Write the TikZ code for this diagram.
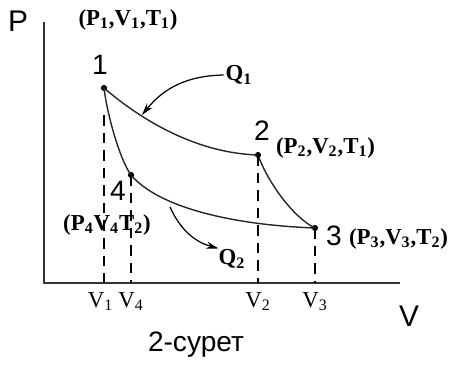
\documentclass[tikz,border=0pt]{standalone}
\usepackage{fontspec}
\setmainfont{Liberation Serif}
\setsansfont{Liberation Sans}
\usetikzlibrary{arrows.meta, positioning, calc}
\tikzset{
    axis/.style={line width=1.1pt, draw=black!80},
    process/.style={line width=0.8pt, draw=black!85},
    guide/.style={dashed, dash pattern=on 6pt off 4pt, line width=0.7pt},
    state/.style={circle, fill=black, inner sep=0pt, minimum size=3.5pt},
    digit/.style={font=\sffamily\fontsize{16}{16}\selectfont, inner sep=1pt},
    tuple/.style={font=\bfseries\fontsize{13}{13}\selectfont, inner sep=1pt},
    tick/.style={font=\fontsize{13}{13}\selectfont, inner sep=1pt},
    heat/.style={line width=0.7pt, -{Stealth[length=7pt, width=4pt]}}
}

\begin{document}
\begin{tikzpicture}[x=0.02cm, y=0.02cm]
        \useasboundingbox (-44,-83) rectangle (405,283);
        % Axes
        \coordinate (origin) at (0,0);
        \coordinate (ptop) at (0,261);
        \coordinate (vend) at (356,0);
        \draw[axis] (ptop) -- (origin) -- (vend);
        \node (plab) [font=\sffamily\fontsize{17}{17}\selectfont] at (-26,262) {P};
        \node (vlab) [font=\sffamily\fontsize{17}{17}\selectfont] at (365,-33) {V};

        % States
        \node (s1) [state] at (60,195) {};
        \node (s2) [state] at (214,128) {};
        \node (s3) [state] at (271,55) {};
        \node (s4) [state] at (87,108) {};

        % Cycle
        \draw[process] (s1.center) .. controls (95,165) and (150,130) .. (s2.center);
        \draw[process] (s2.center) .. controls (224,100) and (250,65) .. (s3.center);
        \draw[process] (s3.center) .. controls (190,58) and (115,75) .. (s4.center);
        \draw[process] (s4.center) .. controls (75,125) and (63,170) .. (s1.center);

        % Volume guides
        \coordinate (f1) at (60,0);
        \coordinate (f4) at (87,0);
        \coordinate (f2) at (214,0);
        \coordinate (f3) at (271,0);
        \coordinate (g1) at (60,168);
        \draw[guide] (g1) -- (f1);
        \draw[guide] (s4.center) -- (f4);
        \draw[guide] (s2.center) -- (f2);
        \draw[guide] (s3.center) -- (f3);
        \node (v1) [tick, below=4pt of f1, xshift=-2pt] {V\textsubscript{1}};
        \node (v4) [tick, below=4pt of f4] {V\textsubscript{4}};
        \node (v2) [tick, below=4pt of f2] {V\textsubscript{2}};
        \node (v3) [tick, below=4pt of f3] {V\textsubscript{3}};

        % Labels
        \node (n1) [digit] at (56,218) {1};
        \node (t1) [tuple] at (84,263) {(P\textsubscript{1},V\textsubscript{1},T\textsubscript{1})};
        \node (n2) [digit] at (218,152) {2};
        \node (t2) [tuple, anchor=west] at (230,135) {(P\textsubscript{2},V\textsubscript{2},T\textsubscript{1})};
        \node (n3) [digit] at (290,47) {3};
        \node (t3) [tuple, anchor=west] at (303,44) {(P\textsubscript{3},V\textsubscript{3},T\textsubscript{2})};
        \node (n4) [digit] at (74,92) {4};
        \node (t4) [tuple] at (63,58) {(P\textsubscript{4}V\textsubscript{4}T\textsubscript{2})};

        % Heat
        \node (q1) [tuple] at (195,208) {Q\textsubscript{1}};
        \node (q2) [tuple] at (188,24) {Q\textsubscript{2}};
        \coordinate (q1tip) at (98,168);
        \coordinate (q2from) at (126,76);
        \draw[heat] (q1.west) to[bend right=25] (q1tip);
        \draw[heat] (q2from) to[bend right=25] ($(q2.north west)+(2,-1)$);

        \node (caption) [font=\sffamily\fontsize{16}{16}\selectfont] at (152,-62) {2-сурет};
    \end{tikzpicture}
\end{document}
